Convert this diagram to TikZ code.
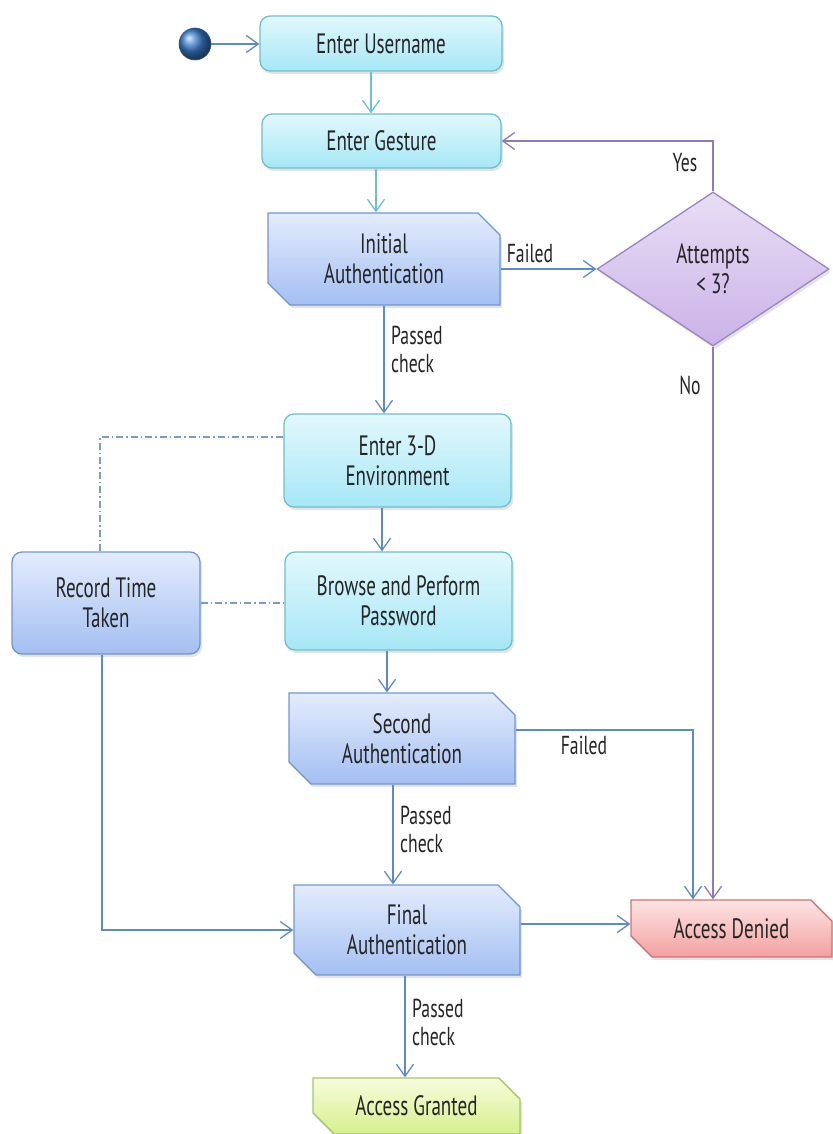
\documentclass[tikz,border=0pt]{standalone}
\usepackage{fontspec}
\newfontfamily\agency[FakeStretch=0.68]{PT Sans}
\usetikzlibrary{arrows.meta,shapes.geometric,shapes.misc,shadows,calc}
\definecolor{txt}{HTML}{252525}
\definecolor{cyanb}{HTML}{6CBFCF}
\definecolor{cyant}{HTML}{E2F8FC}
\definecolor{cyanbot}{HTML}{A6E7F6}
\definecolor{blueb}{HTML}{7096D2}
\definecolor{bluet}{HTML}{E4ECFC}
\definecolor{bluebot}{HTML}{A3BFF2}
\definecolor{purb}{HTML}{9A85C3}
\definecolor{purt}{HTML}{E8DEF5}
\definecolor{purbot}{HTML}{CBB2E8}
\definecolor{redb}{HTML}{CF7474}
\definecolor{redt}{HTML}{FDE4E4}
\definecolor{redbot}{HTML}{F3A0A0}
\definecolor{grnb}{HTML}{A8C46A}
\definecolor{grnt}{HTML}{F7FCDD}
\definecolor{grnbot}{HTML}{D6F08C}
\definecolor{arrcyan}{HTML}{6CC0D2}
\definecolor{arrblue}{HTML}{5F8AC8}
\definecolor{arrpur}{HTML}{8F7BB8}
\definecolor{dashc}{HTML}{7D9CC4}
\definecolor{ballc}{HTML}{3A7CCB}
\begin{document}
\begin{tikzpicture}[x=1pt,y=-1pt,
  every node/.style={text=txt},
  nodefont/.style={font=\agency\fontsize{28}{30}\selectfont},
  base/.style={nodefont, draw, line width=1.3pt, align=center, inner sep=0pt,
    drop shadow={shadow xshift=2pt,shadow yshift=-3pt,opacity=0.22}},
  cyanbox/.style={base, rectangle, rounded corners=10pt, draw=cyanb, top color=cyant, bottom color=cyanbot},
  bluebox/.style={base, rectangle, rounded corners=10pt, draw=blueb, top color=bluet, bottom color=bluebot},
  cutbox/.style={base, chamfered rectangle, chamfered rectangle corners={north east,south west},
    chamfered rectangle xsep=11pt, chamfered rectangle ysep=11pt},
  authbox/.style={cutbox, draw=blueb, top color=bluet, bottom color=bluebot},
  denybox/.style={cutbox, draw=redb, top color=redt, bottom color=redbot},
  grantbox/.style={cutbox, draw=grnb, top color=grnt, bottom color=grnbot},
  decbox/.style={base, diamond, draw=purb, top color=purt, bottom color=purbot},
  lbl/.style={font=\agency\fontsize{26}{28}\selectfont, align=left, inner sep=0pt},
  flow/.style={line width=1.4pt, -{Straight Barb[length=12pt,width=17pt,line width=1.3pt]}},
  cflow/.style={flow, draw=arrcyan},
  bflow/.style={flow, draw=arrblue},
  pflow/.style={flow, draw=arrpur},
  dashline/.style={line width=1.1pt, draw=dashc, dash pattern=on 7pt off 3pt on 1.5pt off 3pt}
]
\useasboundingbox (0,0) rectangle (832,1134);

% nodes
\node[circle, minimum size=32pt, inner sep=0pt, ball color=ballc, draw=ballc!70!black, line width=0.6pt] (start) at (195,44) {};
\node[cyanbox, minimum width=242pt, minimum height=55pt] (user) at (381,43.5) {Enter Username};
\node[cyanbox, minimum width=239pt, minimum height=54pt] (gest) at (381.5,141) {Enter Gesture};
\node[authbox, minimum width=232pt, minimum height=92pt] (init) at (384,259) {Initial\\Authentication};
\node[decbox, minimum width=232pt, minimum height=154pt] (dia) at (713,269) {Attempts\\< 3?};
\node[cyanbox, minimum width=227pt, minimum height=93pt] (e3d) at (397.5,460.5) {Enter 3-D\\Environment};
\node[cyanbox, minimum width=227pt, minimum height=98pt] (brow) at (398.5,601) {Browse and Perform\\Password};
\node[bluebox, minimum width=188pt, minimum height=102pt] (rec) at (106,603) {Record Time\\Taken};
\node[authbox, minimum width=226pt, minimum height=91pt] (sec) at (402,738.5) {Second\\Authentication};
\node[authbox, minimum width=226pt, minimum height=90pt] (fin) at (407,930) {Final\\Authentication};
\node[denybox, minimum width=201pt, minimum height=57pt] (den) at (731.5,928.5) {Access Denied};
\node[grantbox, minimum width=207pt, minimum height=56pt] (gra) at (416.5,1106) {Access Granted};

% helper coordinates
\coordinate (x1) at (371,0);
\coordinate (x2) at (376,0);
\coordinate (x3) at (382,0);
\coordinate (x4) at (387,0);
\coordinate (x5) at (393,0);
\coordinate (x6) at (405,0);
\coordinate (xf) at (693,0);
\coordinate (xr) at (100,0);
\coordinate (xb) at (102,0);
\coordinate (yd) at (0,437);

% connectors
\draw[bflow] (start) -- (user.west |- start);
\draw[cflow] (user.south -| x1) -- (gest.north -| x1);
\draw[cflow] (gest.south -| x2) -- (init.north -| x2);
\draw[bflow] (dia.west -| init.east) -- (dia.west);
\draw[pflow] (dia.north) |- (gest.east);
\draw[pflow] (dia.south) -- (dia.south |- den.north);
\draw[bflow] (init.south) -- (init.south |- e3d.north);
\draw[bflow] (e3d.south -| x3) -- (brow.north -| x3);
\draw[bflow] (brow.south -| x4) -- (sec.north -| x4);
\draw[bflow] ([yshift=8.5pt]sec.east) -| (den.north -| xf);
\draw[bflow] (sec.south -| x5) -- (fin.north -| x5);
\draw[bflow] ([yshift=6pt]fin.east) -- ([yshift=6pt]fin.east -| den.west);
\draw[bflow] (fin.south -| x6) -- (gra.north -| x6);
\draw[bflow] (rec.south -| xb) |- (fin.west);
\draw[dashline] (rec.north -| xr) -- (xr |- yd) -- (e3d.west |- yd);
\draw[dashline] (rec.east) -- (brow.west |- rec.east);

% labels
\node[lbl] (lf1) at (530,253) {Failed};
\node[lbl] (lyes) at (685,163) {Yes};
\node[lbl] (lno) at (690,385) {No};
\node[lbl] (lf2) at (584,745) {Failed};
\node[lbl, anchor=west] (lp1) at (391,349) {Passed\\check};
\node[lbl, anchor=west] (lp2) at (400,829) {Passed\\check};
\node[lbl, anchor=west] (lp3) at (412,1022) {Passed\\check};
\end{tikzpicture}
\end{document}
